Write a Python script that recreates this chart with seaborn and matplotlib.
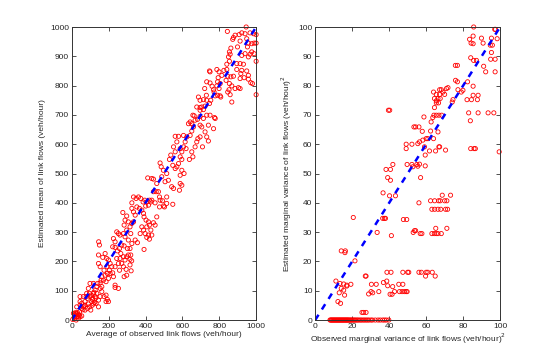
import numpy as np
import pandas as pd
import matplotlib
matplotlib.use("Agg")
import matplotlib.pyplot as plt
import seaborn as sns

# ----------------------------------------
# Left panel: mean of link flows (veh/hour)
# ----------------------------------------
mean_obs = [
    946, 844, 922, 940, 967, 986, 1000, 886, 908,
    873, 877, 913, 949, 958, 989, 1000, 976,
    863, 855, 859, 850, 899, 953, 976, 967, 958, 989, 1000, 940, 922,
    855, 841, 895, 913, 931,
    895, 922, 949, 917, 935, 958, 913, 971, 958, 1000, 980,
    787, 799, 814, 825, 841, 846, 863, 877, 837, 855, 868, 846, 859, 868, 904, 913, 886, 853,
    794, 791, 805, 787, 799, 791, 805, 808, 772, 778, 769, 761,
    747, 750, 732, 750,
    721, 730, 714, 732, 754, 747, 723, 705, 696,
    687, 696, 678, 696, 714,
    732, 778, 774, 741, 769, 750, 696, 682, 664, 657, 669, 651, 642, 633, 696, 705, 714, 723, 732, 741, 709, 696,
    660, 651, 642, 624, 615, 606, 620, 651, 657, 638, 669, 678, 684,
    561, 579, 606,
    570, 552, 588, 597, 561, 588, 597, 579, 570, 548, 530, 537, 561, 597, 588, 609,
    588, 597, 584, 542, 552, 548,
    479, 485, 497, 515, 524, 506, 488,
    412, 434, 443, 461,
    443, 458, 470, 476, 479, 492, 497, 503, 515, 515, 476, 452,
    335, 349, 362, 374, 387, 396, 407, 421, 429, 434, 416, 401,
    353, 367, 380, 389, 392, 403, 416, 421, 407, 429, 416, 421, 407, 398, 389, 380,
    326, 326, 335, 344, 335, 326, 316,
    277, 289, 298, 307, 284, 298, 280, 289, 262, 320, 307, 326, 344, 356, 371, 434, 443,
    452, 461, 392,
    244, 253, 226, 235, 222, 235, 248, 259, 271, 284, 302, 316, 320, 298, 316, 289, 280, 266,
    262, 271, 244, 253, 235, 259, 280, 295, 316, 322, 298, 284, 307, 325,
    199, 208, 190, 217, 204, 193, 175, 181, 163, 172, 154, 186, 199, 208, 226, 235, 235, 253,
    222, 168, 181, 190, 150, 145, 145, 154, 146,
    96, 118, 127, 136, 118, 99, 90, 81, 99, 114, 127, 136, 108, 118, 132, 145, 145, 154,
    163, 175, 186, 193, 186, 199, 163, 154, 141, 159, 112, 124, 105, 130, 120, 110,
    45, 54, 63, 72, 78, 85, 63, 54, 42, 45, 27, 36, 72, 85, 96, 103, 90, 72, 45, 27,
    5, 13, 18, 27, 24, 36, 45, 9, 20, 31, 42, 54, 15, 22, 33, 60, 66,
]
mean_est = [
    1000, 985, 980, 977, 980, 977, 974, 972, 974,
    958, 964, 952, 960, 945, 945, 945, 943,
    928, 915, 907, 898, 932, 932, 915, 907, 898, 909, 883, 909, 903,
    883, 873, 875, 875, 873,
    855, 852, 850, 841, 827, 835, 824, 810, 822, 769, 807,
    855, 847, 835, 852, 855, 832, 830, 832, 818, 807, 799, 778, 769, 744, 793, 790, 790, 786,
    827, 813, 807, 799, 790, 767, 765, 761, 778, 765, 786, 798,
    850, 847, 813, 809,
    790, 767, 752, 750, 750, 739, 730, 727, 716,
    761, 750, 727, 725, 718,
    699, 688, 691, 665, 653, 699, 695, 685, 697, 699, 682, 670, 676, 670, 665, 659, 688, 642, 625, 611, 591, 625,
    659, 645, 630, 625, 608, 591, 585, 574, 557, 548, 591, 608, 619,
    627, 627, 630,
    608, 591, 585, 574, 574, 557, 548, 534, 523, 528, 548, 563, 517, 511, 494, 500,
    466, 460, 443, 455, 449, 395,
    536, 523, 511, 500, 477, 472, 489,
    485, 483, 481, 466,
    438, 438, 438, 420, 409, 407, 389, 386, 398, 420, 386, 400,
    420, 415, 420, 415, 403, 409, 403, 409, 403, 409, 392, 389,
    386, 381, 375, 364, 352, 341, 335, 324, 318, 307, 290, 276, 282, 295, 307, 318,
    400, 381, 369, 358, 335, 330, 318,
    367, 341, 355, 335, 324, 307, 295, 284, 290, 295, 273, 261, 273, 264, 295, 290, 332,
    324, 352, 241,
    301, 295, 278, 267, 250, 248, 236, 244, 256, 253, 244, 244, 222, 216, 207, 205, 216, 227,
    210, 193, 210, 193, 182, 170, 182, 173, 188, 168, 153, 148, 222, 202,
    205, 193, 182, 182, 170, 159, 170, 153, 148, 136, 127, 131, 142, 159, 148, 119, 111, 108,
    161, 214, 227, 210, 256, 222, 193, 182, 267,
    91, 91, 102, 114, 125, 125, 108, 91, 80, 74, 80, 91, 63, 55, 57, 45, 68, 80,
    97, 80, 85, 70, 63, 63, 114, 108, 125, 136, 70, 60, 85, 75, 95, 50,
    63, 57, 45, 63, 80, 74, 80, 40, 28, 51, 23, 17, 34, 40, 45, 34, 55, 51, 80, 45,
    2, 9, 17, 11, 0, 6, 11, 23, 25, 25, 17, 14, 5, 20, 12, 35, 48,
]

# ----------------------------------------
# Right panel: marginal variance (veh/hour)^2
# ----------------------------------------
var_obs = [
    85.7, 97.1, 97.5, 83.5, 85.4, 84.3, 85.4, 89.9, 90.8, 95.3, 98.4, 94.7, 95.8,
    95.3, 94.9, 97.3, 84.1, 85.7, 87.2, 91.1, 92.2, 97.3,
    75.8, 76.9, 75.9, 76.9, 77.2, 79.0, 79.9, 82.4,
    85.4, 82.1, 84.5, 85.4, 88.1, 87.7, 83.0, 88.1, 93.5, 96.6, 83.9,
    84.1, 85.9, 86.6, 99.5,
    67.3, 68.2, 71.0, 71.8, 69.1, 70.0, 65.5, 64.0, 67.3,
    64.5, 65.5, 66.4, 67.6, 66.7, 65.5, 64.5, 74.1, 74.5,
    64.2, 65.5, 66.9, 68.4, 63.6, 58.8, 66.4, 62.7,
    53.4, 54.3, 56.1, 57.9, 62.4, 64.0, 60.9, 60.0, 58.2, 56.4, 55.5,
    49.2, 49.2, 52.3, 61.8, 65.1, 70.5, 66.9, 67.3, 59.1, 59.5,
    49.7, 52.3, 55.0, 55.5, 56.4, 59.5, 57.0, 52.8,
    39.6, 40.3, 42.0, 38.3, 40.7, 39.2, 40.7, 36.7, 40.2, 43.4,
    36.5, 37.4, 38.0, 47.7, 49.5, 33.5, 41.2, 53.0, 53.7, 54.3, 56.8, 57.7, 56.1,
    62.4, 64.6, 66.7, 67.6, 70.0, 71.2, 68.7, 73.2,
    63.1, 64.6, 66.4, 67.9, 70.5, 71.6,
    63.1, 64.4, 65.5, 66.4, 68.2, 65.2, 71.2,
    20.6, 14.1, 16.3, 16.1, 21.5,
    11.2, 13.4, 14.1, 13.0, 15.4, 15.4, 17.1, 17.1, 19.3, 15.9, 12.3, 13.7,
    27.1, 27.5, 30.4, 33.0, 28.9, 30.2, 31.1, 34.4,
    36.9, 38.7, 39.2, 41.9, 40.5, 41.6, 41.0, 38.8, 42.9,
    45.2, 47.4, 45.6, 47.0, 48.3, 49.2, 49.7, 47.4, 50.0, 50.6,
    56.1, 57.4, 60.0, 60.9, 63.3, 59.7, 64.9,
    25.3, 26.2, 27.5,
]
var_est = [
    100, 99.2, 99.2, 95.8, 96.9, 94.5, 94.3, 96.2, 94.5, 96.2, 96.0, 93.8, 93.8,
    91.3, 89.0, 89.0, 89.5, 88.6, 88.6, 86.6, 84.7, 84.7,
    86.9, 86.9, 81.8, 81.3, 78.6, 77.8, 78.4, 81.3,
    79.8, 75.2, 75.2, 76.7, 76.7, 75.2, 70.7, 70.7, 70.7, 70.7, 68.0,
    58.5, 58.5, 58.5, 57.4,
    78.6, 78.6, 79.0, 79.3, 77.8, 77.0, 77.0, 77.8, 77.0,
    75.6, 74.8, 75.6, 75.6, 74.1, 74.1, 72.5, 74.4, 75.2,
    69.9, 69.9, 69.9, 69.9, 69.1, 69.3, 64.2, 67.6,
    65.9, 65.9, 65.9, 64.4, 64.5, 61.9, 61.9, 61.9, 61.4, 60.8, 60.2,
    60.0, 58.5, 60.0, 57.7, 57.7, 58.0, 59.1, 59.1, 59.1, 56.3,
    53.1, 53.1, 53.1, 52.5, 53.2, 52.6, 48.6, 52.3,
    71.6, 71.6, 53.1, 51.4, 51.4, 48.6, 47.7, 43.4, 42.4, 42.4,
    34.7, 34.7, 34.7, 34.3, 34.3, 29.9, 28.8, 29.9, 30.5, 30.5, 29.5, 29.5, 40.0,
    40.7, 40.7, 40.7, 40.7, 40.7, 40.7, 42.6, 42.6,
    37.8, 37.8, 37.8, 37.8, 37.8, 37.8,
    29.5, 29.5, 29.5, 29.5, 29.5, 31.3, 31.3,
    35.0, 23.6, 23.6, 23.0, 20.2,
    13.3, 12.5, 10.8, 9.3, 12.3, 10.2, 11.9, 11.6, 12.2, 8.5, 6.3, 5.7,
    15.0, 15.0, 12.2, 12.2, 8.9, 9.7, 9.3, 9.7,
    12.8, 13.3, 11.7, 11.4, 8.8, 8.8, 16.3, 16.3, 9.7,
    12.2, 12.2, 9.7, 9.7, 9.7, 9.7, 9.7, 16.3, 16.3, 16.3,
    16.3, 16.3, 16.3, 16.3, 16.3, 15.0, 15.0,
    2.6, 2.6, 2.6,
]
# links whose estimated variance is zero
zero_var_obs = [
    8.0, 8.4, 8.8, 9.2, 9.6, 10.0, 10.4, 10.8, 11.2, 11.6, 12.0, 12.4, 12.8, 13.2,
    13.6, 14.0, 14.4, 14.8, 15.2, 15.6, 16.0, 16.4, 16.8, 17.2, 17.6, 18.0, 18.5,
    19.0, 19.5, 20.0, 20.6, 21.2, 21.8, 22.5, 23.2, 24.0, 24.8, 25.6, 26.5, 27.3,
    28.2, 29.0, 30.1, 31.0, 32.5, 34.0, 35.2, 36.5, 37.5, 38.5, 39.8,
]

left_df = pd.DataFrame({"obs": mean_obs, "est": mean_est})
right_df = pd.DataFrame({
    "obs": var_obs + zero_var_obs,
    "est": var_est + [0.0] * len(zero_var_obs),
})

sns.set_style("ticks")
plt.rcParams["font.family"] = ["Liberation Sans", "DejaVu Sans"]
plt.rcParams["xtick.direction"] = "in"
plt.rcParams["ytick.direction"] = "in"

fig = plt.figure(figsize=(5.52, 3.6), dpi=100)
ax1 = fig.add_axes([0.130, 0.111, 0.334, 0.814])
ax2 = fig.add_axes([0.571, 0.111, 0.335, 0.814])


def style_axis(ax, lim, step_x, step_y):
    ax.set_xlim(0, lim)
    ax.set_ylim(0, lim)
    ax.set_xticks(np.arange(0, lim + 1e-9, step_x))
    ax.set_yticks(np.arange(0, lim + 1e-9, step_y))
    ax.tick_params(labelsize=6, length=3, width=0.6, color="#333333",
                   top=True, right=True, pad=2)
    for s in ax.spines.values():
        s.set_visible(True)
        s.set_linewidth(0.7)
        s.set_color("#333333")


marker_kw = dict(marker="o", s=9, facecolor="none", edgecolor="red",
                 linewidth=0.6, clip_on=False, legend=False)

sns.scatterplot(data=left_df, x="obs", y="est", ax=ax1, **marker_kw)
sns.lineplot(x=[0, 1000], y=[0, 1000], ax=ax1, color="blue",
             linestyle=(0, (2.5, 2.5)), linewidth=1.8)
style_axis(ax1, 1000, 200, 100)
ax1.set_xlabel("Average of observed link flows (veh/hour)", fontsize=6, labelpad=1)
ax1.set_ylabel("Estimated mean of link flows (veh/hour)", fontsize=6, labelpad=3)

sns.scatterplot(data=right_df, x="obs", y="est", ax=ax2, **marker_kw)
sns.lineplot(x=[0, 100], y=[0, 100], ax=ax2, color="blue",
             linestyle=(0, (2.5, 2.5)), linewidth=1.8)
style_axis(ax2, 100, 20, 10)
ax2.set_xlabel("Observed marginal variance of link flows (veh/hour)$^2$", fontsize=6, labelpad=1)
ax2.set_ylabel("Estimated marginal variance of link flows (veh/hour)$^2$", fontsize=6, labelpad=3)

fig.savefig("out.png", dpi=100)
